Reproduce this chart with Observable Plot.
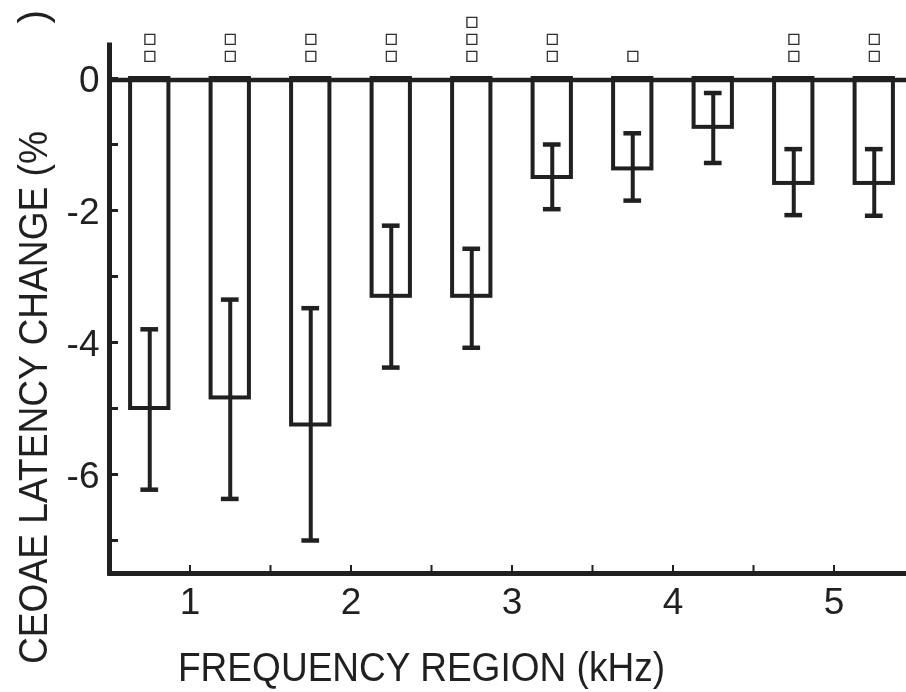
<!DOCTYPE html>
<html><head><meta charset="utf-8">
<script src="https://cdn.jsdelivr.net/npm/d3@7"></script>
<script src="https://cdn.jsdelivr.net/npm/@observablehq/plot@0.6"></script>
<style>html,body{margin:0;padding:0;background:#fff;overflow:hidden}</style>
</head><body><div id="chart"></div>
<script>
// Frequency region bar centres (kHz)
const regions = [0.75, 1.25, 1.75, 2.25, 2.75, 3.25, 3.75, 4.25, 4.75, 5.25];
// Mean CEOAE latency change (%)
const latencyChange = [-5.00, -4.84, -5.25, -3.30, -3.30, -1.50, -1.37, -0.74, -1.59, -1.59];
// Error bar ends
const errUpper = [-3.80, -3.35, -3.48, -2.23, -2.58, -1.00, -0.83, -0.22, -1.07, -1.07];
const errLower = [-6.23, -6.37, -7.00, -4.38, -4.08, -1.98, -1.85, -1.28, -2.07, -2.08];
// Number of significance markers above each bar
const sigMarks = [2, 2, 2, 2, 3, 2, 1, 0, 2, 2];
// Ticks
const xTicks = [1, 1.5, 2, 2.5, 3, 3.5, 4, 4.5, 5];
const xTickLabels = [1, 2, 3, 4, 5];
const yTicks = [-7, -6, -5, -4, -3, -2, -1, 0];
const yTickLabels = [-6, -4, -2, 0];
const xTitle = "FREQUENCY REGION (kHz)";
const yTitle = "CEOAE LATENCY CHANGE (%";
const yTitleEnd = ")";

const ink = "#231f20";
const data = regions.map((x, i) => ({x, v: latencyChange[i], hi: errUpper[i], lo: errLower[i], n: sigMarks[i]}));
const halfBar = 0.119, halfCap = 0.055;
const font = "'Liberation Sans', Arial, sans-serif";

const chart = Plot.plot({
  width: 906, height: 692,
  marginLeft: 110, marginTop: 45, marginBottom: 119, marginRight: 0,
  style: {fontFamily: font, background: "#fff", overflow: "hidden", color: ink},
  x: {domain: [0.5, 5.5], range: [109, 914], axis: null, label: null},
  y: {domain: [-7.5, 0.5], range: [573, 45], axis: null, label: null},
  marks: [
    Plot.rect(data, {x1: d => d.x - halfBar, x2: d => d.x + halfBar, y1: 0, y2: "v", fill: "white", stroke: ink, strokeWidth: 4}),
    Plot.ruleX(data, {x: "x", y1: "lo", y2: "hi", stroke: ink, strokeWidth: 4}),
    Plot.ruleY(data, {y: "lo", x1: d => d.x - halfCap, x2: d => d.x + halfCap, stroke: ink, strokeWidth: 4.5}),
    Plot.ruleY(data, {y: "hi", x1: d => d.x - halfCap, x2: d => d.x + halfCap, stroke: ink, strokeWidth: 4.5}),
    Plot.ruleY([0], {stroke: ink, strokeWidth: 4.5, dy: 1.5}),
    Plot.ruleY([-7.5], {stroke: ink, strokeWidth: 5, strokeLinecap: "square"}),
    Plot.ruleX([0.5], {stroke: ink, strokeWidth: 5, strokeLinecap: "square"}),
    Plot.axisY(yTicks, {tickSize: -8, strokeWidth: 3, stroke: ink, tickFormat: () => "", label: null}),
    Plot.axisY(yTickLabels, {tickSize: 0, tickPadding: 11, fontSize: 37, fill: ink, dy: 2, tickFormat: d => String(d), label: null}),
    Plot.axisX(xTicks, {tickSize: -8, strokeWidth: 2, stroke: ink, tickFormat: () => "", label: null}),
    Plot.axisX(xTickLabels, {tickSize: 0, tickPadding: 14, fontSize: 37, fill: ink, tickFormat: d => String(d), label: null}),
    Plot.text(data.filter(d => d.n > 0), {x: "x", y: 0, dy: -19, text: d => Array(d.n).fill("□").join("\n"),
      lineAnchor: "bottom", fontSize: 14, lineHeight: 1.18, fontFamily: "DejaVu Sans", fill: ink,
      stroke: ink, strokeWidth: 0.4}),
    Plot.text([xTitle], {frameAnchor: "bottom-left", dx: 311, dy: 107, textAnchor: "middle", lineAnchor: "bottom", fontSize: 41, fill: ink}),
    Plot.text([yTitle], {frameAnchor: "bottom-left", rotate: -90, dx: -63.3, dy: 90.5, textAnchor: "start", lineAnchor: "bottom", fontSize: 41, fill: ink}),
    Plot.text([yTitleEnd], {frameAnchor: "top-left", rotate: -90, dx: -63.3, dy: -22, textAnchor: "start", lineAnchor: "bottom", fontSize: 41, fill: ink})
  ]
});

d3.select(chart).selectAll("text").each(function() {
  const t = this.textContent;
  if (t === xTitle) { this.setAttribute("textLength", 487); this.setAttribute("lengthAdjust", "spacingAndGlyphs"); }
  if (t === yTitle) { this.setAttribute("textLength", 533); this.setAttribute("lengthAdjust", "spacingAndGlyphs"); }
});
chart.style.filter = "grayscale(1)";
document.getElementById("chart").append(chart);
</script>
</body></html>
